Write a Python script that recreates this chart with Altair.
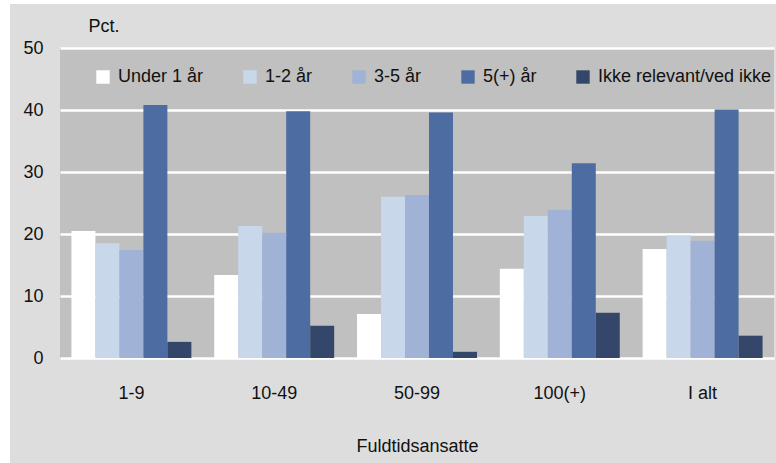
import altair as alt
import pandas as pd

categories = ["1-9", "10-49", "50-99", "100(+)", "I alt"]
series = ["Under 1 år", "1-2 år", "3-5 år", "5(+) år", "Ikke relevant/ved ikke"]
under_1 = [20.5, 13.4, 7.1, 14.4, 17.6]
yr_1_2 = [18.5, 21.3, 26.0, 22.9, 19.8]
yr_3_5 = [17.4, 20.2, 26.3, 23.9, 18.9]
yr_5plus = [40.8, 39.8, 39.6, 31.4, 40.1]
not_rel = [2.6, 5.2, 1.0, 7.3, 3.6]
colors = ["#ffffff", "#c8d7ea", "#a0b2d6", "#4d6ca1", "#34476b"]
y_ticks = [0, 10, 20, 30, 40, 50]

rows = []
for s, vals in zip(series, [under_1, yr_1_2, yr_3_5, yr_5plus, not_rel]):
    for c, v in zip(categories, vals):
        rows.append({"cat": c, "series": s, "value": v})
df = pd.DataFrame(rows)

FONT = "Liberation Sans"
W, H = 714, 310

bars = alt.Chart(df).mark_bar().encode(
    x=alt.X("cat:N", sort=categories,
            scale=alt.Scale(paddingInner=0.16, paddingOuter=0.08),
            axis=alt.Axis(title="Fuldtidsansatte", labelAngle=0, domain=False, ticks=False,
                          labelPadding=26, titlePadding=35, grid=False)),
    xOffset=alt.XOffset("series:N", sort=series, scale=alt.Scale(paddingInner=0, paddingOuter=0)),
    y=alt.Y("value:Q", scale=alt.Scale(domain=[0, 50], nice=False),
            axis=alt.Axis(values=y_ticks, title="Pct.", titleAngle=0, titleX=28, titleY=-17,
                          titleAlign="left", titleBaseline="alphabetic",
                          domain=False, ticks=False, labelPadding=17,
                          grid=True, gridColor="#ffffff", gridWidth=2.5, gridOpacity=1)),
    color=alt.Color("series:N", sort=series,
                    scale=alt.Scale(domain=series, range=colors),
                    legend=alt.Legend(title=None, orient="none", legendX=34, legendY=20,
                                      direction="horizontal", columns=5, columnPadding=37,
                                      symbolType="square", symbolSize=180, symbolStrokeWidth=0,
                                      labelOffset=6, padding=0, labelFontSize=18, labelLimit=400,
                                      labelFont=FONT, labelColor="#111111")),
)

strips = alt.Chart(alt.Data(values=[{"k": 0}])).mark_rect(color="#ffffff").encode(
    x=alt.value(-60), x2=alt.value(-50), y=alt.value(-48), y2=alt.value(H + 105)
)
strip_top = alt.Chart(alt.Data(values=[{"k": 0}])).mark_rect(color="#ffffff").encode(
    x=alt.value(-60), x2=alt.value(W + 2), y=alt.value(-48), y2=alt.value(-44)
)

chart = alt.layer(bars, strips, strip_top).properties(
    width=W, height=H,
    autosize=alt.AutoSizeParams(type="none"),
    padding={"left": 60, "top": 48, "right": 2, "bottom": 105},
    background="#dddddd",
).configure_view(
    fill="#c0c0c0", strokeWidth=0
).configure_axis(
    labelFont=FONT, titleFont=FONT, labelFontSize=18, titleFontSize=18,
    labelColor="#111111", titleColor="#111111", titleFontWeight="normal"
)

chart.save("out.html", embed_options={"renderer": "svg", "actions": False})
